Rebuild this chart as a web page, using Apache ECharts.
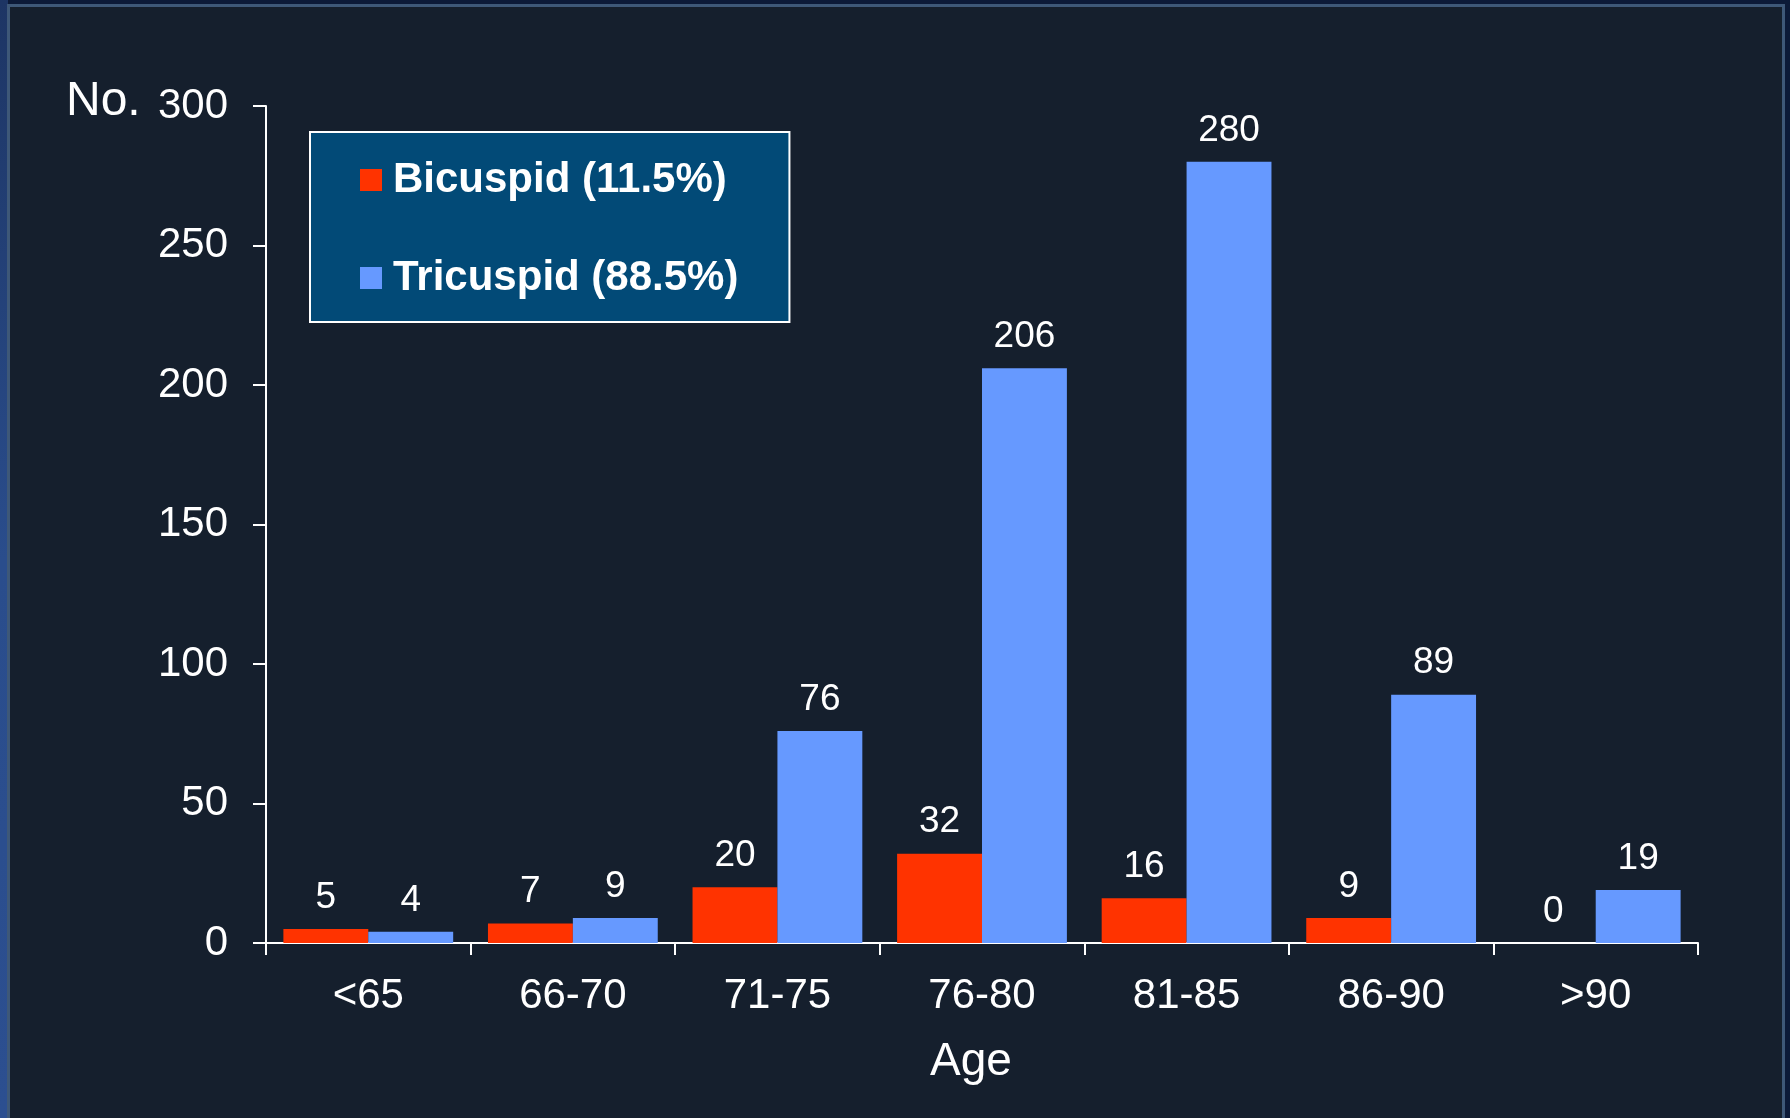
<!DOCTYPE html>
<html>
<head>
<meta charset="utf-8">
<title>Aortic valve morphology by age</title>
<script src="https://cdn.jsdelivr.net/npm/echarts@6/dist/echarts.min.js"></script>
<style>
  html, body { margin: 0; padding: 0; background: #0c1a38; }
  #chart { width: 1790px; height: 1118px; }
</style>
</head>
<body>
<div id="chart"></div>
<script>
// Age groups and patient counts per valve type
const ageGroups = ['<65', '66-70', '71-75', '76-80', '81-85', '86-90', '>90'];
const bicuspid = [5, 7, 20, 32, 16, 9, 0];
const tricuspid = [4, 9, 76, 206, 280, 89, 19];
const seriesNames = ['Bicuspid (11.5%)', 'Tricuspid (88.5%)'];
const yTicks = { min: 0, max: 300, interval: 50 };

const FONT = '"Liberation Sans", Arial, Helvetica, sans-serif';
const chart = echarts.init(document.getElementById('chart'));

const barLabel = {
  show: true,
  position: 'top',
  distance: 13,
  color: '#ffffff',
  fontFamily: FONT,
  fontSize: 37
};

chart.setOption({
  backgroundColor: '#0c1a38',
  animation: false,
  graphic: [
    // blue strip on the left edge
    { type: 'rect', z: 0, shape: { x: 0, y: 0, width: 8, height: 1118 },
      style: { fill: new echarts.graphic.LinearGradient(0, 0, 0, 1, [
        { offset: 0, color: '#1d3564' }, { offset: 0.5, color: '#2a4d8c' }, { offset: 1, color: '#2c4f90' }]) } },
    // dark panel with light slate frame
    { type: 'rect', z: 0, shape: { x: 8.5, y: 5.5, width: 1775, height: 1200 },
      style: { fill: '#151f2d', stroke: '#3e5878', lineWidth: 3 } },
    // y axis caption
    { type: 'text', z: 10, x: 66, y: 102,
      style: { text: 'No.', fill: '#ffffff', font: '48px ' + FONT, textVerticalAlign: 'middle' } }
  ],
  grid: { left: 266, right: 92, top: 106, bottom: 175, containLabel: false },
  legend: {
    orient: 'vertical',
    left: 310,
    top: 132,
    padding: [27, 51, 23, 50],
    backgroundColor: '#024a77',
    borderColor: '#ffffff',
    borderWidth: 2,
    borderRadius: 0,
    itemWidth: 22,
    itemHeight: 22,
    itemGap: 56,
    icon: 'rect',
    selectedMode: false,
    textStyle: {
      color: '#ffffff', fontFamily: FONT, fontSize: 42, fontWeight: 'bold',
      lineHeight: 40, padding: [0, 0, 0, 6]
    },
    data: seriesNames
  },
  xAxis: {
    type: 'category',
    data: ageGroups,
    name: 'Age',
    nameLocation: 'middle',
    nameGap: 96,
    nameTextStyle: { color: '#ffffff', fontFamily: FONT, fontSize: 46, padding: [0, 22, 0, 0] },
    axisLine: { lineStyle: { color: '#ffffff', width: 2 } },
    axisTick: { show: true, length: 12, lineStyle: { color: '#ffffff', width: 2 } },
    axisLabel: { color: '#ffffff', fontFamily: FONT, fontSize: 42, margin: 32 },
    splitLine: { show: false }
  },
  yAxis: {
    type: 'value',
    min: yTicks.min,
    max: yTicks.max,
    interval: yTicks.interval,
    axisLine: { show: true, lineStyle: { color: '#ffffff', width: 2 } },
    axisTick: { show: true, length: 13, lineStyle: { color: '#ffffff', width: 2 } },
    axisLabel: { color: '#ffffff', fontFamily: FONT, fontSize: 42, margin: 38, padding: [4, 0, 0, 0] },
    splitLine: { show: false }
  },
  series: [
    {
      name: seriesNames[0], type: 'bar', data: bicuspid,
      barGap: '0%', barCategoryGap: '17%',
      itemStyle: { color: '#ff3300' },
      label: barLabel
    },
    {
      name: seriesNames[1], type: 'bar', data: tricuspid,
      barGap: '0%', barCategoryGap: '17%',
      itemStyle: { color: '#6699ff' },
      label: barLabel
    }
  ]
});
</script>
</body>
</html>
